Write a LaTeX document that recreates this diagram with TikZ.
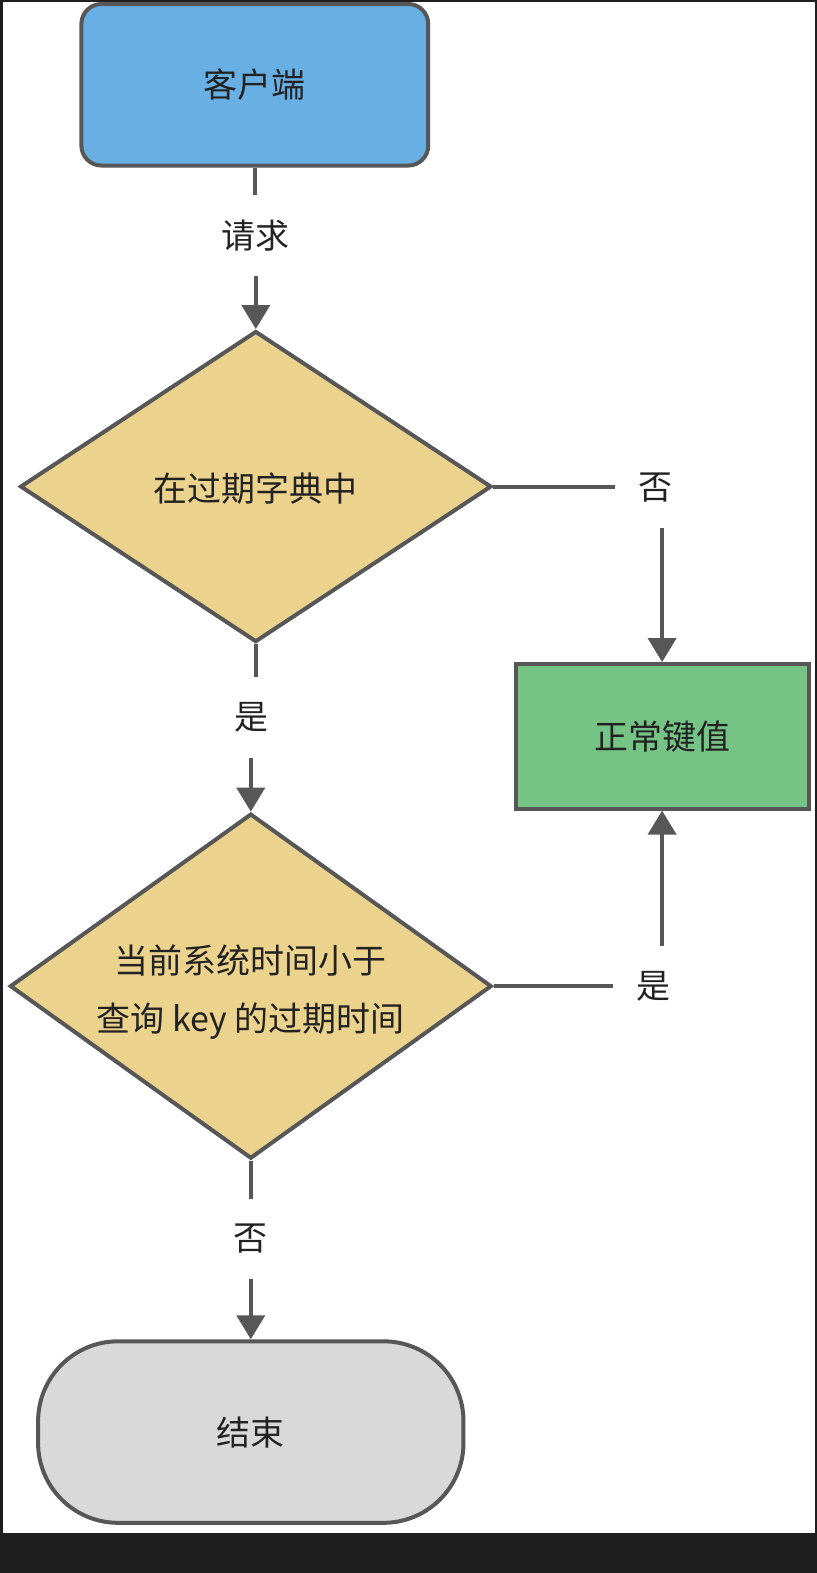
\documentclass[tikz,border=0pt]{standalone}
\usepackage{fontspec}
\setmainfont{Noto Sans CJK SC}
\usetikzlibrary{shapes.geometric,arrows.meta,calc}
\definecolor{frame}{HTML}{1E1E1E}
\definecolor{edge}{HTML}{575757}
\definecolor{ink}{HTML}{222222}
\definecolor{clientblue}{HTML}{68B0E4}
\definecolor{decide}{HTML}{EBD28D}
\definecolor{okgreen}{HTML}{75C486}
\definecolor{endgrey}{HTML}{D9D9D9}
\begin{document}
\begin{tikzpicture}[x=0.50184pt,y=-0.50184pt,
  font=\fontsize{17pt}{29pt}\selectfont,
  box/.style={draw=edge,line width=2pt,text=ink,inner sep=0pt},
  decision/.style={box,diamond,fill=decide,align=center},
  tag/.style={text=ink,inner sep=0pt,minimum width=40pt,minimum height=40pt},
  link/.style={draw=edge,line width=2pt},
  flow/.style={link,-{Triangle[width=14pt,length=12pt]}}]
% page with its dark frame
\fill[frame] (0,0) rectangle (814,1568);
\fill[white] (3,2) rectangle (812,1528);
\useasboundingbox (0,0) rectangle (814,1568);

% nodes
\node[box,fill=clientblue,rounded corners=10pt,minimum width=173.5pt,minimum height=80.8pt] (client) at (254,84.5) {客户端};
\node[decision,minimum width=235.8pt,minimum height=155.6pt] (expdict) at (255,485) {};
\node[text=ink] at (255,487) {在过期字典中};
\node[decision,minimum width=241pt,minimum height=172.6pt] (cmp) at (250,983) {};
\node[text=ink,align=center] at (250,989) {当前系统时间小于\\查询 key 的过期时间};
\node[box,fill=okgreen,minimum width=146.5pt,minimum height=72.3pt] (normal) at (660,734) {正常键值};
\node[box,fill=endgrey,rounded corners=40pt,minimum width=212.8pt,minimum height=90.8pt] (finish) at (250,1427.5) {结束};

% branch labels
\node[tag] (req) at (255,235) {请求};
\node[tag] (no1) at (653,486) {否};
\node[tag] (yes1) at (251,715) {是};
\node[tag] (yes2) at (651,983) {是};
\node[tag] (no2) at (250,1235) {否};

% connectors
\draw[link] (client.south) -- (client.south |- req.north);
\draw[flow] (req.south -| expdict.north) -- (expdict.north);
\draw[link] (expdict.east) -- (expdict.east -| no1.west);
\draw[flow] (no1.south -| normal.north) -- (normal.north);
\draw[link] (expdict.south) -- (expdict.south |- yes1.north);
\draw[flow] (yes1.south -| cmp.north) -- (cmp.north);
\draw[link] (cmp.east) -- (yes2.west);
\draw[flow] (yes2.north -| normal.south) -- (normal.south);
\draw[link] (cmp.south) -- (no2.north);
\draw[flow] (no2.south) -- (finish.north);
\end{tikzpicture}
\end{document}
